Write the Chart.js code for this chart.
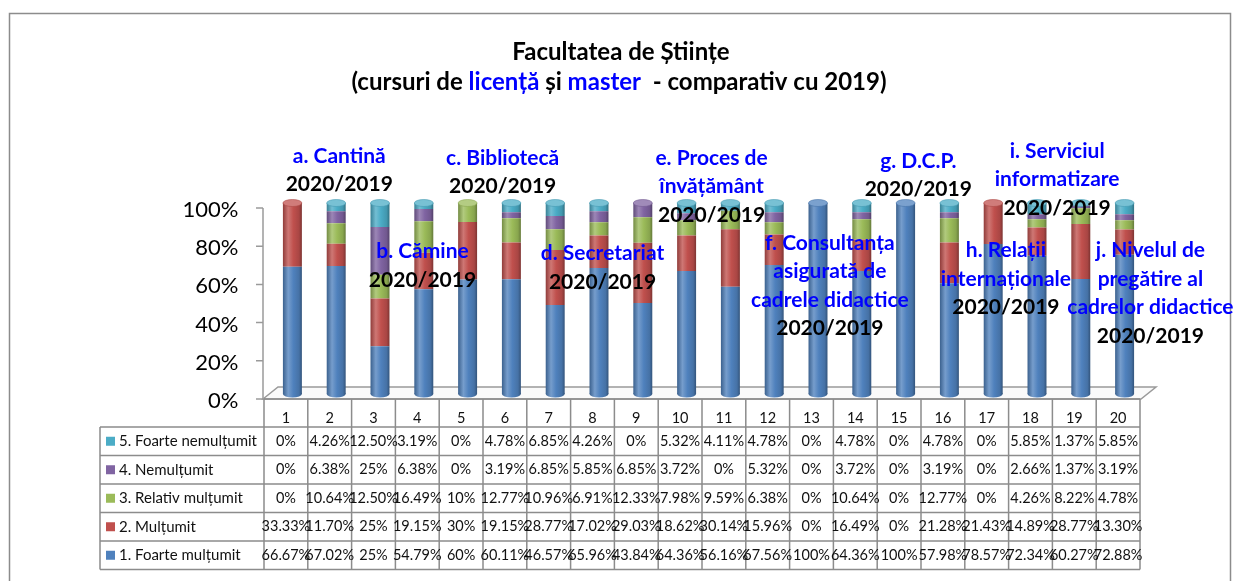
<!DOCTYPE html>
<html lang="ro">
<head>
    <meta charset="UTF-8">
    <meta name="viewport" content="width=device-width, initial-scale=1.0">
    <title>Facultatea de Științe</title>
    <script src="https://cdn.jsdelivr.net/npm/chart.js"></script>
    <style>
        body {
            margin: 0;
            background: #ffffff;
            overflow: hidden;
        }
        .chart-container {
            position: relative;
            width: 1236px;
            height: 581px;
        }
    </style>
</head>
<body>
    <div class="chart-container">
        <canvas id="facultyChart"></canvas>
    </div>
    <script>
        // Categories (1..20) and the five answer levels, values in percent
        const categories = ['1', '2', '3', '4', '5', '6', '7', '8', '9', '10',
                            '11', '12', '13', '14', '15', '16', '17', '18', '19', '20'];
        const seriesNames = ['1. Foarte mulțumit', '2. Mulțumit', '3. Relativ mulțumit',
                             '4. Nemulțumit', '5. Foarte nemulțumit'];

        const foarteMultumit = [66.67, 67.02, 25, 54.79, 60, 60.11, 46.57, 65.96, 43.84, 64.36,
                                56.16, 67.56, 100, 64.36, 100, 57.98, 78.57, 72.34, 60.27, 72.88];
        const multumit = [33.33, 11.70, 25, 19.15, 30, 19.15, 28.77, 17.02, 29.03, 18.62,
                          30.14, 15.96, 0, 16.49, 0, 21.28, 21.43, 14.89, 28.77, 13.30];
        const relativMultumit = [0, 10.64, 12.50, 16.49, 10, 12.77, 10.96, 6.91, 12.33, 7.98,
                                 9.59, 6.38, 0, 10.64, 0, 12.77, 0, 4.26, 8.22, 4.78];
        const nemultumit = [0, 6.38, 25, 6.38, 0, 3.19, 6.85, 5.85, 6.85, 3.72,
                            0, 5.32, 0, 3.72, 0, 3.19, 0, 2.66, 1.37, 3.19];
        const foarteNemultumit = [0, 4.26, 12.50, 3.19, 0, 4.78, 6.85, 4.26, 0, 5.32,
                                  4.11, 4.78, 0, 4.78, 0, 4.78, 0, 5.85, 1.37, 5.85];

        const seriesValues = [foarteMultumit, multumit, relativMultumit, nemultumit, foarteNemultumit];
        const seriesColors = ['#4F81BD', '#C0504D', '#9BBB59', '#8064A2', '#4BACC6'];
        const yTicks = [0, 20, 40, 60, 80, 100];

        // Group labels written over the bars (anchor: category index, value in %)
        const groupNotes = [
            { lines: ['a. Cantină', '2020/2019'], at: 1.07, y: 125 },
            { lines: ['b. Cămine', '2020/2019'], at: 2.97, y: 75 },
            { lines: ['c. Bibliotecă', '2020/2019'], at: 4.80, y: 124 },
            { lines: ['d. Secretariat', '2020/2019'], at: 7.08, y: 74 },
            { lines: ['e. Proces de', 'învățământ', '2020/2019'], at: 9.57, y: 124 },
            { lines: ['f. Consultanța', 'asigurată de', 'cadrele didactice', '2020/2019'], at: 12.27, y: 79.5 },
            { lines: ['g. D.C.P.', '2020/2019'], at: 14.29, y: 122.5 },
            { lines: ['h. Relații', 'internaționale', '2020/2019'], at: 16.29, y: 75.4 },
            { lines: ['i. Serviciul', 'informatizare', '2020/2019'], at: 17.46, y: 127.7 },
            { lines: ['j. Nivelul de', 'pregătire al', 'cadrelor didactice', '2020/2019'], at: 19.59, y: 75.4 }
        ];

        const BAR_PCT = 0.433;   // bar width share of a category
        const DEPTH_X = 6.5;     // bars sit a little right of the table columns (3D depth)
        const FONT = 'Lato, "Open Sans", sans-serif';

        // 100% stacked: each bar shows the share of its own total
        const totals = categories.map((_, i) => seriesValues.reduce((s, vals) => s + vals[i], 0));
        const seriesShares = seriesValues.map(vals => vals.map((v, i) => v / totals[i] * 100));

        function mix(hex, t, f) {
            const n = parseInt(hex.slice(1), 16);
            const c = [(n >> 16) & 255, (n >> 8) & 255, n & 255].map(v => Math.round(v + (t - v) * f));
            return 'rgb(' + c.join(',') + ')';
        }
        const lighten = (h, f) => mix(h, 255, f);
        const darken = (h, f) => mix(h, 0, f);

        function cylGradient(g, xc, hw, color) {
            const grad = g.createLinearGradient(xc - hw, 0, xc + hw, 0);
            grad.addColorStop(0, darken(color, 0.25));
            grad.addColorStop(0.28, lighten(color, 0.22));
            grad.addColorStop(0.55, color);
            grad.addColorStop(0.85, darken(color, 0.12));
            grad.addColorStop(1, darken(color, 0.35));
            return grad;
        }

        function barHalf(xs) {
            return (xs.getPixelForValue(1) - xs.getPixelForValue(0)) * BAR_PCT / 2;
        }

        // scriptable fill: each bar gets its own cylinder shading
        function cylinderFill(color) {
            return (c) => {
                const chart = c.chart;
                const xs = chart.scales.x;
                if (c.type !== 'data' || !xs || !chart.chartArea) return color;
                return cylGradient(chart.ctx, xs.getPixelForValue(c.dataIndex), barHalf(xs), color);
            };
        }

        function fmtPct(v) {
            return (Number.isInteger(v) ? String(v) : v.toFixed(2)) + '%';
        }

        const chartDecor = {
            id: 'chartDecor',
            beforeDraw(chart) {
                const g = chart.ctx;
                g.save();
                g.fillStyle = '#ffffff';
                g.fillRect(0, 0, chart.width, chart.height);
                g.strokeStyle = '#8c8c8c';
                g.lineWidth = 1.5;
                g.strokeRect(9.5, 13.5, 1221, 620);
                g.restore();
            },
            beforeDatasetsDraw(chart) {
                const g = chart.ctx, xs = chart.scales.x, ys = chart.scales.y;
                const step = xs.getPixelForValue(1) - xs.getPixelForValue(0);
                const left = xs.getPixelForValue(0) - step / 2 - DEPTH_X;
                const right = left + step * categories.length;
                const base = ys.getPixelForValue(0);
                g.save();
                // floor
                g.beginPath();
                g.moveTo(left - 1, base + 5);
                g.lineTo(left + 14, base - 7);
                g.lineTo(right + 16, base - 7);
                g.lineTo(right + 1, base + 5);
                g.closePath();
                g.fillStyle = '#fafafa';
                g.fill();
                g.strokeStyle = '#9a9a9a';
                g.lineWidth = 1.5;
                g.stroke();
                // rounded bottoms of the cylinders
                const hw = barHalf(xs);
                categories.forEach((_, i) => {
                    const xc = xs.getPixelForValue(i);
                    g.beginPath();
                    g.ellipse(xc, base, hw, 3.5, 0, 0, Math.PI * 2);
                    g.fillStyle = cylGradient(g, xc, hw, seriesColors[0]);
                    g.fill();
                });
                g.restore();
            },
            afterDatasetsDraw(chart) {
                const g = chart.ctx, xs = chart.scales.x, ys = chart.scales.y;
                const hw = barHalf(xs);
                g.save();
                categories.forEach((_, i) => {
                    let top = 0, idx = 0;
                    seriesShares.forEach((vals, s) => {
                        if (vals[i] > 0) { top += vals[i]; idx = s; }
                    });
                    const xc = xs.getPixelForValue(i);
                    const yc = ys.getPixelForValue(top);
                    g.beginPath();
                    g.ellipse(xc, yc, hw, 3.5, 0, 0, Math.PI * 2);
                    g.fillStyle = lighten(seriesColors[idx], 0.25);
                    g.fill();
                    g.strokeStyle = darken(seriesColors[idx], 0.1);
                    g.lineWidth = 0.6;
                    g.stroke();
                });
                g.restore();
            },
            afterDraw(chart) {
                const g = chart.ctx, xs = chart.scales.x, ys = chart.scales.y;
                const step = xs.getPixelForValue(1) - xs.getPixelForValue(0);
                const left = xs.getPixelForValue(0) - step / 2 - DEPTH_X;
                const right = left + step * categories.length;
                const base = ys.getPixelForValue(0);
                g.save();

                // front value axis with its tick marks
                g.strokeStyle = '#9a9a9a';
                g.lineWidth = 1.5;
                g.beginPath();
                g.moveTo(left - 1, ys.getPixelForValue(100) + 5);
                g.lineTo(left - 1, base + 5);
                yTicks.forEach(v => {
                    const y = ys.getPixelForValue(v) + 5;
                    g.moveTo(left - 8, y);
                    g.lineTo(left - 1, y);
                });
                g.stroke();

                // data table
                const top = base + 5, headH = 28, rowH = 28.5, labelLeft = 100;
                const bodyTop = top + headH;
                const bodyBottom = bodyTop + rowH * seriesValues.length;
                g.strokeStyle = '#8c8c8c';
                g.lineWidth = 1.5;
                g.beginPath();
                for (let c = 0; c <= categories.length; c++) {
                    const x = left + c * step;
                    g.moveTo(x, top);
                    g.lineTo(x, bodyBottom);
                }
                g.moveTo(left, top);
                g.lineTo(right, top);
                for (let r = 0; r <= seriesValues.length; r++) {
                    const y = bodyTop + r * rowH;
                    g.moveTo(labelLeft, y);
                    g.lineTo(right, y);
                }
                g.moveTo(labelLeft, bodyTop);
                g.lineTo(labelLeft, bodyBottom);
                g.stroke();

                g.fillStyle = '#111111';
                g.font = '14.5px ' + FONT;
                g.textAlign = 'center';
                g.textBaseline = 'middle';
                categories.forEach((cat, c) => {
                    g.fillText(cat, left + (c + 0.5) * step, top + 19);
                });
                for (let r = 0; r < seriesValues.length; r++) {
                    const s = seriesValues.length - 1 - r;
                    const yc = bodyTop + (r + 0.5) * rowH;
                    g.fillStyle = seriesColors[s];
                    g.fillRect(labelLeft + 6, yc - 4.5, 9, 9);
                    g.fillStyle = '#111111';
                    g.textAlign = 'left';
                    g.font = '15px ' + FONT;
                    g.fillText(seriesNames[s], labelLeft + 19, yc);
                    g.textAlign = 'center';
                    g.font = '14.5px ' + FONT;
                    seriesValues[s].forEach((v, c) => {
                        g.fillText(fmtPct(v), left + (c + 0.5) * step, yc);
                    });
                }

                // title, with the two programme names in blue
                const cx = chart.width / 2;
                g.textBaseline = 'alphabetic';
                g.font = 'bold 24px ' + FONT;
                g.fillStyle = '#000000';
                g.textAlign = 'center';
                g.fillText('Facultatea de Științe', cx + 3, 60);
                const parts = [
                    ['(cursuri de ', '#000000'], ['licență', '#0000FF'], [' și ', '#000000'],
                    ['master', '#0000FF'], ['  - comparativ cu 2019)', '#000000']
                ];
                const total = parts.reduce((w, p) => w + g.measureText(p[0]).width, 0);
                let x = cx + 1 - total / 2;
                g.textAlign = 'left';
                parts.forEach(([txt, col]) => {
                    g.fillStyle = col;
                    g.fillText(txt, x, 90);
                    x += g.measureText(txt).width;
                });

                // group labels
                g.font = 'bold 21px ' + FONT;
                g.textAlign = 'center';
                groupNotes.forEach(note => {
                    const nx = xs.getPixelForValue(0) + note.at * step;
                    const ny = ys.getPixelForValue(note.y) + 7.5;
                    note.lines.forEach((line, k) => {
                        g.fillStyle = k === note.lines.length - 1 ? '#000000' : '#0000FF';
                        g.fillText(line, nx, ny + k * 28.5);
                    });
                });
                g.restore();
            }
        };

        const ctx = document.getElementById('facultyChart').getContext('2d');
        const chart = new Chart(ctx, {
            type: 'bar',
            data: {
                labels: categories,
                datasets: seriesShares.map((vals, s) => ({
                    label: seriesNames[s],
                    data: vals,
                    backgroundColor: cylinderFill(seriesColors[s]),
                    borderWidth: 0,
                    categoryPercentage: 1,
                    barPercentage: BAR_PCT
                }))
            },
            options: {
                responsive: true,
                maintainAspectRatio: false,
                animation: false,
                layout: {
                    padding: { top: 203, bottom: 187, left: 0, right: 89.5 }
                },
                plugins: {
                    legend: { display: false },
                    title: { display: false },
                    tooltip: { enabled: false }
                },
                scales: {
                    x: {
                        stacked: true,
                        display: false
                    },
                    y: {
                        stacked: true,
                        min: 0,
                        max: 100,
                        afterFit: (scale) => { scale.width = 270.5; },
                        afterBuildTicks: (scale) => { scale.ticks = yTicks.map(v => ({ value: v })); },
                        grid: { display: false, drawTicks: false },
                        border: { display: false },
                        ticks: {
                            padding: 32,
                            labelOffset: 7,
                            color: '#000000',
                            font: { family: FONT, size: 22 },
                            callback: (v) => v + '%'
                        }
                    }
                }
            },
            plugins: [chartDecor]
        });
    </script>
</body>
</html>
